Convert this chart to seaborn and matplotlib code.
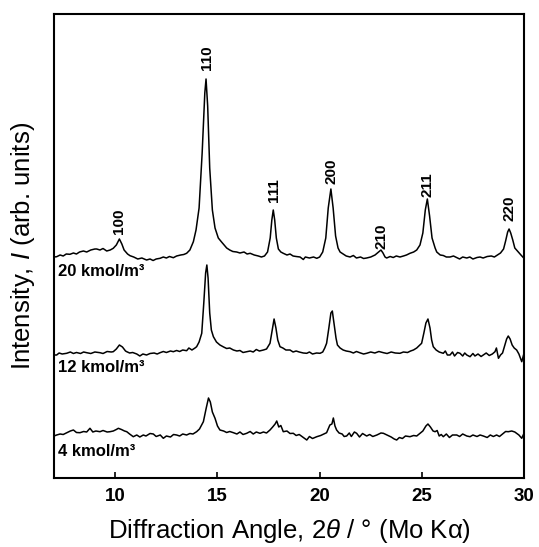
import seaborn as sns
import pandas as pd
import matplotlib.pyplot as plt

# 20 kmol/m3 trace
angle_20 = [7.0, 7.13, 7.3, 7.45, 7.6, 7.78, 7.95, 8.1, 8.25, 8.44, 8.6, 8.8, 9.0, 9.09, 9.25, 9.4,
            9.58, 9.75, 9.9, 10.05, 10.2, 10.32, 10.43, 10.6, 10.72, 10.9, 11.1, 11.3, 11.53, 11.7,
            11.85, 12.0, 12.19, 12.35, 12.5, 12.65, 12.84, 13.0, 13.2, 13.35, 13.49, 13.65, 13.82,
            13.95, 14.1, 14.25, 14.38, 14.44, 14.52, 14.62, 14.75, 14.88, 15.04, 15.2, 15.45, 15.6,
            15.75, 15.94, 16.1, 16.3, 16.45, 16.6, 16.8, 17.0, 17.15, 17.3, 17.45, 17.58, 17.66,
            17.73, 17.8, 17.88, 17.98, 18.1, 18.22, 18.4, 18.55, 18.7, 18.85, 19.04, 19.2, 19.3,
            19.5, 19.7, 19.86, 20.0, 20.15, 20.3, 20.42, 20.55, 20.66, 20.78, 20.9, 21.0, 21.15,
            21.3, 21.49, 21.65, 21.8, 22.0, 22.15, 22.3, 22.5, 22.71, 22.88, 23.0, 23.1, 23.2,
            23.28, 23.45, 23.6, 23.75, 23.93, 24.1, 24.25, 24.42, 24.6, 24.75, 24.91, 25.05, 25.17,
            25.27, 25.38, 25.5, 25.65, 25.73, 25.9, 26.05, 26.2, 26.38, 26.55, 26.7, 26.85, 27.0,
            27.2, 27.35, 27.5, 27.7, 27.85, 28.0, 28.2, 28.4, 28.55, 28.7, 28.85, 29.0, 29.1, 29.2,
            29.27, 29.35, 29.45, 29.55, 29.72, 29.85, 30.0]
inten_20 = [221, 221.3, 223, 222, 224, 223.7, 225, 224, 226, 227, 226, 228, 229, 229, 228, 229.5,
            227, 228, 229.7, 233, 239, 234, 228, 224, 222.3, 221, 219, 220, 218, 219,
            217.5, 219, 219.7, 221, 220, 221.5, 220.3, 222, 223, 223.5, 224.7, 228, 236.3,
            248, 270, 325, 385, 399, 372, 310, 268, 250, 240, 236, 230, 228,
            226.5, 226, 225, 226, 224, 224.7, 223, 222, 221, 222, 226, 240, 258,
            268, 258, 240, 229, 226, 224.7, 223, 224, 222, 221.5, 221, 218.5, 221,
            220, 221, 219.7, 221, 226, 240, 270, 289, 270, 242, 230, 226, 224,
            222, 221, 222.5, 220, 221, 219.5, 220, 221, 223, 226, 228, 225, 221,
            220, 221.5, 220.5, 222, 221, 222, 223, 224.7, 226, 228, 233, 245, 268,
            279, 262, 240, 230, 226, 223, 222.5, 221, 221, 222, 220.5, 219, 221,
            220, 221, 219, 220.5, 221, 220, 221.5, 222, 221, 223, 225, 229, 237, 246,
            249, 245, 238, 230, 226, 223, 219.7]

# 12 kmol/m3 trace
angle_12 = [7.0, 7.13, 7.25, 7.4, 7.62, 7.8, 7.95, 8.1, 8.3, 8.45, 8.6, 8.8, 9.0, 9.25, 9.4, 9.6,
            9.8, 9.9, 10.05, 10.2, 10.35, 10.5, 10.56, 10.7, 10.85, 11.05, 11.2, 11.35, 11.53, 11.7,
            11.9, 12.05, 12.19, 12.35, 12.5, 12.7, 12.84, 13.0, 13.15, 13.3, 13.49, 13.6, 13.75,
            13.9, 13.98, 14.1, 14.23, 14.33, 14.42, 14.48, 14.54, 14.62, 14.7, 14.8, 14.95, 15.12,
            15.3, 15.45, 15.6, 15.78, 15.95, 16.1, 16.25, 16.43, 16.6, 16.75, 16.9, 17.05, 17.25,
            17.4, 17.57, 17.68, 17.77, 17.86, 17.95, 18.06, 18.2, 18.35, 18.55, 18.7, 18.85, 19.0,
            19.2, 19.37, 19.5, 19.65, 19.85, 20.02, 20.15, 20.25, 20.34, 20.45, 20.55, 20.62, 20.7,
            20.8, 20.87, 21.0, 21.15, 21.3, 21.49, 21.65, 21.8, 22.0, 22.15, 22.3, 22.5, 22.7, 22.9,
            23.12, 23.3, 23.5, 23.7, 23.93, 24.1, 24.3, 24.45, 24.59, 24.75, 24.9, 24.99, 25.1,
            25.2, 25.3, 25.4, 25.48, 25.56, 25.7, 25.85, 26.05, 26.15, 26.25, 26.38, 26.5, 26.6,
            26.75, 26.87, 27.0, 27.1, 27.2, 27.36, 27.5, 27.6, 27.75, 27.9, 28.01, 28.15, 28.3,
            28.45, 28.58, 28.65, 28.75, 28.85, 28.95, 29.05, 29.15, 29.23, 29.32, 29.42, 29.52,
            29.64, 29.75, 29.89, 30.0]
inten_12 = [123, 123, 125, 124, 124.7, 126, 124.5, 125.5, 124.5, 126, 125.3, 124.5, 126, 125.3, 124.5, 126.5,
            126, 126.3, 129, 133, 131, 127, 126.3, 125, 125.5, 124, 122, 124, 123, 124.5,
            125, 124, 125.3, 126.5, 125.5, 127, 126.3, 127.5, 126.5, 128, 127.3, 130, 128,
            130, 131.3, 136, 144.7, 175, 205, 213, 200, 165, 148, 141.3, 136, 133,
            131, 129.5, 130, 128, 127, 127.5, 125.5, 126.3, 127, 126, 128.5, 127, 128,
            129, 134.7, 148, 159, 150, 138, 131.3, 130, 128, 128, 126, 127, 126,
            125, 124.7, 126, 124, 125, 124.7, 126, 130, 134.7, 150, 165, 167, 155,
            140, 133, 130, 128, 127, 126.3, 125, 126.5, 125, 124, 124.7, 126, 125, 126.5,
            125.3, 124.5, 126, 125, 124.7, 126, 125.5, 127, 128, 130, 133, 134.7, 145,
            155, 159, 150, 138, 131.3, 128, 126, 124.7, 127, 123, 123, 126, 122,
            125.5, 124.7, 122, 125, 123, 121.3, 124.5, 122, 124, 121.5, 123, 125, 122.5,
            124, 126.3, 130, 119.7, 123, 125, 132, 139, 142, 139, 133, 130,
            128, 124, 116.3, 124.7]

# 4 kmol/m3 trace
angle_4 = [7.0, 7.13, 7.3, 7.45, 7.6, 7.8, 7.95, 8.1, 8.27, 8.45, 8.6, 8.76, 8.9, 9.05, 9.25, 9.4,
           9.6, 9.74, 9.9, 10.05, 10.15, 10.3, 10.45, 10.56, 10.7, 10.88, 11.05, 11.2, 11.37, 11.5,
           11.7, 11.86, 12.0, 12.2, 12.35, 12.5, 12.7, 12.85, 13.0, 13.15, 13.3, 13.49, 13.65, 13.8,
           13.98, 14.12, 14.31, 14.45, 14.56, 14.65, 14.75, 14.88, 15.0, 15.12, 15.3, 15.45, 15.6,
           15.78, 15.95, 16.1, 16.25, 16.43, 16.6, 16.75, 16.9, 17.08, 17.25, 17.4, 17.57, 17.7,
           17.82, 17.9, 18.0, 18.1, 18.22, 18.4, 18.55, 18.71, 18.85, 19.0, 19.2, 19.37, 19.5,
           19.65, 19.86, 20.05, 20.2, 20.34, 20.5, 20.6, 20.67, 20.75, 20.83, 20.95, 21.1, 21.2,
           21.32, 21.45, 21.55, 21.7, 21.81, 21.95, 22.1, 22.3, 22.45, 22.6, 22.8, 23.0, 23.12,
           23.3, 23.5, 23.65, 23.77, 23.9, 24.05, 24.2, 24.42, 24.6, 24.75, 24.91, 25.05, 25.2,
           25.3, 25.42, 25.55, 25.65, 25.75, 25.85, 25.95, 26.05, 26.2, 26.35, 26.5, 26.71, 26.85,
           27.0, 27.2, 27.36, 27.5, 27.7, 27.85, 28.01, 28.2, 28.35, 28.5, 28.66, 28.8, 28.95,
           29.1, 29.23, 29.4, 29.55, 29.64, 29.75, 29.89, 30.0]
inten_4 = [42, 43, 44, 43.5, 45, 47, 48, 45.5, 45.3, 46.5, 46, 49.7, 46, 47, 46.3, 47.5,
           46, 46.3, 47, 48.5, 49.7, 48.5, 47, 46.3, 44, 41.3, 43, 41, 43, 42,
           44.5, 44, 41.5, 43, 39.7, 42, 41, 43.5, 43, 42, 44, 43, 44.5, 44,
           46.3, 49, 56.3, 70, 80, 76, 66, 59.7, 52, 48, 47, 45.5, 46.5,
           45.3, 44, 46, 43.5, 44.7, 46.5, 44, 46, 44.7, 46, 45, 48, 51,
           54, 57, 51, 52.5, 46.3, 47, 44.5, 44.7, 42.5, 43.5, 40.5, 38, 41.5,
           39.5, 41.3, 42.5, 44, 45.3, 53, 54, 60, 52, 48, 45, 44, 41.5,
           42, 45, 41.5, 46, 44.7, 41, 44.5, 42, 43.5, 41.5, 43, 45, 44.7,
           43, 41, 39, 38, 40.5, 39.5, 42, 41.3, 42.5, 42, 44.7, 47, 52,
           54, 51, 47, 46.3, 47.5, 42, 43.5, 41.3, 44, 40.5, 43, 43, 41.5,
           44, 42, 41.3, 43, 41.5, 43, 42, 40.5, 43, 41.5, 43, 41.5, 44,
           46.5, 46.3, 47, 46, 44.7, 43, 39.7, 44.7]

# peak (hkl) labels: angle and height of label base
peak_hkl = ["100", "110", "111", "200", "210", "211", "220"]
peak_angle = [10.2, 14.48, 17.77, 20.6, 23.03, 25.3, 29.3]
peak_label_base = [244, 408, 276, 294, 229, 281, 257]

conc_labels = ["20 kmol/m\u00b3", "12 kmol/m\u00b3", "4 kmol/m\u00b3"]
conc_label_y = [206, 110, 26]

xtick_values = [10, 15, 20, 25, 30]

sns.set_style("ticks")
plt.rcParams['font.family'] = ['Liberation Sans', 'DejaVu Sans']
plt.rcParams['mathtext.fontset'] = 'custom'
plt.rcParams['mathtext.rm'] = 'Liberation Sans'
plt.rcParams['mathtext.it'] = 'Liberation Sans:italic'
plt.rcParams['text.color'] = 'black'
plt.rcParams['axes.labelcolor'] = 'black'
plt.rcParams['xtick.color'] = 'black'
plt.rcParams['ytick.color'] = 'black'

fig = plt.figure(figsize=(5.39, 5.47), dpi=100)
ax = fig.add_axes([54 / 539, 69 / 547, 470 / 539, 464.5 / 547])

traces = [(angle_20, inten_20), (angle_12, inten_12), (angle_4, inten_4)]
for ang, inten in traces:
    df = pd.DataFrame({"angle": ang, "intensity": inten})
    sns.lineplot(data=df, x="angle", y="intensity", color="black", linewidth=1.1,
                 estimator=None, sort=False, ax=ax)

for lab, xa, yb in zip(peak_hkl, peak_angle, peak_label_base):
    ax.text(xa, yb, lab, rotation=90, ha="center", va="bottom", fontsize=11,
            fontweight="bold", color="black")

for lab, yc in zip(conc_labels, conc_label_y):
    ax.text(7.2, yc, lab, ha="left", va="center", fontsize=12, fontweight="bold",
            color="black")

ax.set_xlim(7, 30)
ax.set_ylim(0, 464.5)
ax.set_xticks(xtick_values)
ax.set_xticklabels([str(v) for v in xtick_values], fontsize=13.5, fontweight="bold",
                   color="black")
ax.set_yticks([])
ax.tick_params(axis="x", direction="in", length=4, width=1.2, pad=7, colors="black")
for sp in ax.spines.values():
    sp.set_linewidth(1.5)
    sp.set_color("black")

ax.set_xlabel(r"Diffraction Angle, $\mathit{2\theta}$ / ° (Mo K$\mathrm{\alpha}$)", fontsize=18.5,
              labelpad=9, color="black")
ax.set_ylabel(r"Intensity, $\mathit{I}$ (arb. units)", fontsize=18.5, labelpad=12,
              color="black")

fig.savefig("out.png", dpi=100)
